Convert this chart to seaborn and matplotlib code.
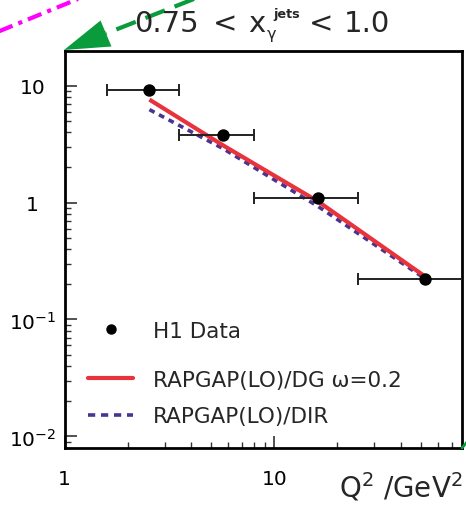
import matplotlib
matplotlib.use("Agg")
import matplotlib.pyplot as plt
from matplotlib.lines import Line2D
from matplotlib.patches import Polygon
from matplotlib.ticker import FixedLocator, NullFormatter, LogLocator
import seaborn as sns

# Q^2 bins and cross sections
q2_centre = [2.54, 5.71, 16.2, 52.0]
q2_low = [1.6, 3.5, 8.0, 25.0]
q2_high = [3.5, 8.0, 25.0, 100.0]
h1_data = [9.25, 3.82, 1.10, 0.222]
rapgap_dg = [7.6, 3.08, 1.02, 0.235]
rapgap_dir = [6.24, 2.89, 0.925, 0.225]

ytick_vals = [0.01, 0.1, 1, 10]
ytick_labels = [r"$10^{-2}$", r"$10^{-1}$", "1", "10"]
xtick_vals = [1, 10]
xtick_labels = ["1", "10"]

sns.set_theme(style="ticks")
plt.rcParams["font.family"] = ["DejaVu Sans"]
plt.rcParams["mathtext.fontset"] = "dejavusans"

W, H = 466, 506
fig = plt.figure(figsize=(W / 100, H / 100), dpi=100)
ax = fig.add_axes([64.5 / W, 1 - 448.7 / H, (461.7 - 64.5) / W, (448.7 - 52) / H])


def px(x, y):
    return x / W, 1 - y / H


# model curves
red = "#e8323c"
blue = "#4a3391"
sns.lineplot(x=q2_centre, y=rapgap_dg, color=red, lw=3.0, ax=ax, zorder=3,
             solid_capstyle="butt")
sns.lineplot(x=q2_centre, y=rapgap_dir, color=blue, lw=2.6, ax=ax, zorder=2)
ax.lines[-1].set_linestyle((0, (1.6, 1.4)))
ax.lines[-1].set_dash_capstyle("butt")

# data with bin widths
xerr = [[c - lo for c, lo in zip(q2_centre, q2_low)],
        [hi - c for c, hi in zip(q2_centre, q2_high)]]
ax.errorbar(q2_centre, h1_data, xerr=xerr, fmt="none", ecolor="#222222",
            elinewidth=1.4, capsize=4.5, capthick=1.4, zorder=4)
sns.scatterplot(x=q2_centre, y=h1_data, s=80, color="black", edgecolor="black",
                linewidth=0, ax=ax, zorder=5)

ax.set_xscale("log")
ax.set_yscale("log")
ax.set_xlim(1, 78.2)
ax.set_ylim(0.008, 19.8)

ax.xaxis.set_major_locator(FixedLocator(xtick_vals))
ax.set_xticklabels(xtick_labels)
ax.xaxis.set_minor_locator(LogLocator(base=10, subs=range(2, 10)))
ax.xaxis.set_minor_formatter(NullFormatter())
ax.yaxis.set_major_locator(FixedLocator(ytick_vals))
ax.set_yticklabels(ytick_labels)
ax.yaxis.set_minor_locator(LogLocator(base=10, subs=range(2, 10)))
ax.yaxis.set_minor_formatter(NullFormatter())

ax.tick_params(axis="both", which="major", direction="in", length=8.5, width=1.2,
               color="#333333", labelsize=14.5, labelcolor="black")
ax.tick_params(axis="both", which="minor", direction="in", length=4.3, width=1.0,
               color="#333333")
ax.tick_params(axis="x", which="major", pad=15)
ax.tick_params(axis="y", which="major", pad=23)
for lab in ax.get_yticklabels():
    lab.set_horizontalalignment("center")
for s in ax.spines.values():
    s.set_linewidth(2.0)
    s.set_color("black")
ax.set_xlabel("")
ax.set_ylabel("")

# legends
h_data = Line2D([], [], ls="none", marker="o", ms=6.5, color="black")
leg1 = ax.legend([h_data], ["H1 Data"], loc="center left",
                 bbox_to_anchor=px(88, 332), bbox_transform=fig.transFigure,
                 frameon=False, fontsize=15.5, handlelength=2.1, handletextpad=0.9,
                 borderpad=0, borderaxespad=0)
ax.add_artist(leg1)
h_dg = Line2D([], [], color=red, lw=3.0)
h_dir = Line2D([], [], color=blue, lw=2.6, ls=(0, (2.0, 1.6)))
ax.legend([h_dg, h_dir], [r"RAPGAP(LO)/DG ω=0.2", "RAPGAP(LO)/DIR"],
          loc="center left", bbox_to_anchor=px(88, 399),
          bbox_transform=fig.transFigure, frameon=False, fontsize=15.5,
          handlelength=2.1, handletextpad=0.9, labelspacing=0.78,
          borderpad=0, borderaxespad=0)

# panel title: 0.75 < x_gamma^jets < 1.0
base_y = 32.5
fig.text(*px(134, base_y), "0.75", ha="left", va="baseline", fontsize=21)
fig.text(*px(225, base_y), "<", ha="center", va="baseline", fontsize=21)
fig.text(*px(256.5, base_y), "x", ha="center", va="baseline", fontsize=21)
fig.text(*px(271.5, 39.5), "γ", ha="center", va="baseline", fontsize=11.5)
fig.text(*px(273, 18), "jets", ha="left", va="baseline", fontsize=9.2,
         fontweight="bold")
fig.text(*px(321.5, base_y), "<", ha="center", va="baseline", fontsize=21)
fig.text(*px(344, base_y), "1.0", ha="left", va="baseline", fontsize=21)

# axis title
fig.text(*px(463, 498), r"$\mathrm{Q}^{2}$ /GeV$^{2}$", ha="right",
         va="baseline", fontsize=20)

# pointers to neighbouring panels
magenta = Line2D([-10 / W, 95 / W], [1 - 36 / H, 1 + 7 / H], transform=fig.transFigure,
                 color="#ff00ff", lw=3.0, ls=(0, (3.5, 1.5, 1.0, 1.5)), clip_on=False)
fig.add_artist(magenta)
tip = (64, 51)
tail = (250, -22)
base = (106, 34.5)
g = "#0a9b3c"
shaft = Line2D([tail[0] / W, base[0] / W], [1 - tail[1] / H, 1 - base[1] / H],
               transform=fig.transFigure, color=g, lw=3.0, ls=(0, (5, 2.5)),
               clip_on=False)
fig.add_artist(shaft)
head = Polygon([px(*tip), px(111.5, 47.5), px(100.5, 21.5)], closed=True,
               transform=fig.transFigure, color=g, lw=0)
fig.add_artist(head)
fig.add_artist(Line2D([462 / W, 472 / W], [1 - 449 / H, 1 - 437 / H],
                      transform=fig.transFigure, color=g, lw=2.0))

fig.savefig("out.png", dpi=100)
